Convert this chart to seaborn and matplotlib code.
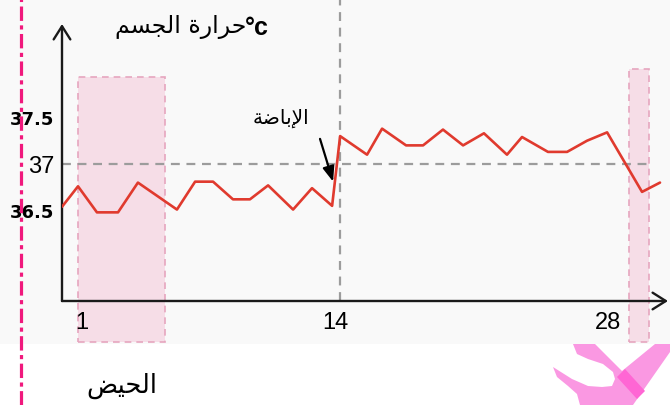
import matplotlib
matplotlib.use('Agg')
import matplotlib.pyplot as plt
import matplotlib.patches as mpatches
from matplotlib.lines import Line2D
import seaborn as sns

# temperature curve (day of cycle, degrees C)
days = [0, 0.82, 1.79, 2.87, 3.89, 5.89, 6.82, 7.74, 8.76, 9.63, 10.56, 11.84, 12.81, 13.84,
        14.25, 15.63, 16.40, 17.63, 18.50, 19.52, 20.55, 21.62, 22.80, 23.57, 24.90, 25.88,
        26.90, 27.93, 29.72, 30.64]
temps = [36.54, 36.76, 36.48, 36.48, 36.80, 36.51, 36.81, 36.81, 36.62, 36.62, 36.77, 36.51,
         36.74, 36.55, 37.30, 37.10, 37.38, 37.20, 37.20, 37.37, 37.20, 37.33, 37.10, 37.29,
         37.13, 37.13, 37.25, 37.34, 36.70, 36.80]

x_ticks = [1, 14, 28]
y_ticks = [36, 36.5, 37, 37.5, 38]
y_labels = ['', '36.5', '37', '37.5', '']

period1 = (0.82, 5.28)     # first menstruation (days)
period2 = (29.05, 30.08)   # next menstruation
ovulation_day = 14.25
ref_temp = 37

title_ar = 'حرارة الجسم'
unit = '°c'
ovulation_ar = 'الإباضة'
period_ar = 'الحيض'

# --- minimal arabic shaping (matplotlib has no bidi / joining) ---
FORMS = {
    'ا': ('\uFE8D', '\uFE8E', None, None),
    'إ': ('\uFE87', '\uFE88', None, None),
    'ب': ('\uFE8F', '\uFE90', '\uFE91', '\uFE92'),
    'ة': ('\uFE93', '\uFE94', None, None),
    'ج': ('\uFE9D', '\uFE9E', '\uFE9F', '\uFEA0'),
    'ح': ('\uFEA1', '\uFEA2', '\uFEA3', '\uFEA4'),
    'ر': ('\uFEAD', '\uFEAE', None, None),
    'س': ('\uFEB1', '\uFEB2', '\uFEB3', '\uFEB4'),
    'ض': ('\uFEBD', '\uFEBE', '\uFEBF', '\uFEC0'),
    'ل': ('\uFEDD', '\uFEDE', '\uFEDF', '\uFEE0'),
    'م': ('\uFEE1', '\uFEE2', '\uFEE3', '\uFEE4'),
    'ي': ('\uFEF1', '\uFEF2', '\uFEF3', '\uFEF4'),
}
LAM_ALEF = {'ا': ('\uFEFB', '\uFEFC'), 'إ': ('\uFEF9', '\uFEFA')}


def shape_ar(text):
    toks = []
    i = 0
    while i < len(text):
        if text[i] == 'ل' and i + 1 < len(text) and text[i + 1] in LAM_ALEF:
            toks.append(('LA', text[i + 1]))
            i += 2
        else:
            toks.append(('C', text[i]))
            i += 1

    def links_left(t):
        return t[0] == 'C' and t[1] in FORMS and FORMS[t[1]][2] is not None

    def links_right(t):
        return t[0] == 'LA' or t[1] in FORMS

    out = []
    for k, t in enumerate(toks):
        prev_j = k > 0 and links_left(toks[k - 1]) and links_right(t)
        next_j = k + 1 < len(toks) and links_left(t) and links_right(toks[k + 1])
        if t[0] == 'LA':
            out.append(LAM_ALEF[t[1]][1 if prev_j else 0])
        elif t[1] not in FORMS:
            out.append(t[1])
        else:
            iso, fin, ini, med = FORMS[t[1]]
            if prev_j and next_j:
                out.append(med)
            elif prev_j:
                out.append(fin)
            elif next_j:
                out.append(ini)
            else:
                out.append(iso)
    return ''.join(reversed(out))


sns.set_theme(style='white')
plt.rcParams['font.family'] = ['DejaVu Sans']

fig = plt.figure(figsize=(6.7, 4.06), dpi=100)
W, H = 670, 406
fig.patches.append(mpatches.Rectangle((0, 61 / H), 1, 1, transform=fig.transFigure,
                                      facecolor='#f9f9f9', edgecolor='none', zorder=-10))

ax = fig.add_axes([62 / W, (H - 302) / H, (668 - 62) / W, (302 - 25) / H])
ax.set_facecolor('none')
ax.set_xlim(0, 31.05)
ax.set_ylim(35.527, 38.505)
for s in ax.spines.values():
    s.set_visible(False)

# menstruation bands (run below the axis like in the original)
for (a, b), top in [(period1, 37.94), (period2, 38.02)]:
    ax.add_patch(mpatches.Rectangle((a, 35.086), b - a, top - 35.086, facecolor='#f6dde7',
                                    edgecolor='#e6a6bf', linestyle=(0, (4, 3)), lw=1.2,
                                    clip_on=False, zorder=0.2))

# reference lines
ax.plot([0, period2[1]], [ref_temp, ref_temp], color='#9c9c9c', lw=1.6,
        linestyle=(0, (4, 3)), zorder=2)
ax.plot([ovulation_day, ovulation_day], [35.527, 38.78], color='#9c9c9c', lw=1.6,
        linestyle=(0, (4, 3)), clip_on=False, zorder=2)

sns.lineplot(x=days, y=temps, sort=False, estimator=None, color='#e03a2e', lw=1.9,
             ax=ax, zorder=4)

# axes with open arrow heads
arrow_kw = dict(arrowstyle='->,head_length=0.95,head_width=0.6', lw=1.7, color='#1a1a1a',
                shrinkA=0, shrinkB=0, mutation_scale=10)
ax.annotate('', xy=(0, 1), xytext=(0, 0), xycoords='axes fraction', arrowprops=arrow_kw)
ax.annotate('', xy=(1, 0), xytext=(0, 0), xycoords='axes fraction', arrowprops=arrow_kw)

ax.set_yticks(y_ticks)
ax.set_yticklabels(y_labels)
ax.set_xticks(x_ticks)
ax.set_xticklabels([str(v) for v in x_ticks])
ax.tick_params(axis='y', direction='inout', length=9.5, width=1.6, color='#1a1a1a', pad=1)
ax.tick_params(axis='x', direction='inout', length=8, width=1.6, color='#1a1a1a', pad=3)
ax.xaxis.get_major_ticks()[0].tick1line.set_visible(False)
for lab in ax.get_xticklabels():
    lab.set_fontfamily('Liberation Sans')
    lab.set_fontsize(17)
    lab.set_color('black')
for lab in ax.get_yticklabels():
    if lab.get_text() == '37':
        lab.set_fontfamily('Liberation Sans')
        lab.set_fontsize(17)
    else:
        lab.set_fontweight('bold')
        lab.set_fontsize(13)
    lab.set_color('black')
ax.set_xlabel('')
ax.set_ylabel('')

# texts
fig.text(246 / W, 1 - 27 / H, shape_ar(title_ar), ha='right', va='center', fontsize=17,
         color='black')
fig.text(245 / W, 1 - 28 / H, unit, ha='left', va='center', fontsize=18, fontweight='bold',
         fontfamily='Liberation Sans', color='black')
ax.annotate('', xy=(13.89, 36.81), xytext=(13.22, 37.27),
            arrowprops=dict(arrowstyle='-|>,head_length=0.9,head_width=0.35', lw=1.6,
                            color='black', shrinkA=0, shrinkB=0, mutation_scale=10))
ax.text(11.22, 37.50, shape_ar(ovulation_ar), ha='center', va='center', fontsize=14.5,
        color='black')
fig.text(122 / W, 1 - 386 / H, shape_ar(period_ar), ha='center', va='center', fontsize=18.5,
         color='black')

# pink dash-dot border on the left
fig.add_artist(Line2D([20.7 / W, 20.7 / W], [0, 1], transform=fig.transFigure,
                      color='#f0197d', lw=2.3, linestyle=(0, (4.5, 1.4, 1.3, 1.4))))

# pink corner mark
px = [(573, 345), (595, 345), (622, 372), (655, 345), (670, 345), (670, 353), (633, 406),
      (580, 406), (577, 395), (568, 387), (557, 378), (553, 368), (572, 380), (588, 387),
      (602, 388), (612, 387), (615, 380), (613, 373), (603, 365), (588, 360), (577, 355)]
fig.patches.append(mpatches.Polygon([(a / W, 1 - b / H) for a, b in px], closed=True,
                                    transform=fig.transFigure, facecolor='#fa98e2',
                                    edgecolor='none'))
stripe = [(617, 378), (625, 370), (645, 392), (637, 400)]
fig.patches.append(mpatches.Polygon([(a / W, 1 - b / H) for a, b in stripe], closed=True,
                                    transform=fig.transFigure, facecolor='#ff66d4',
                                    edgecolor='none'))

fig.savefig('out.png', dpi=100)
